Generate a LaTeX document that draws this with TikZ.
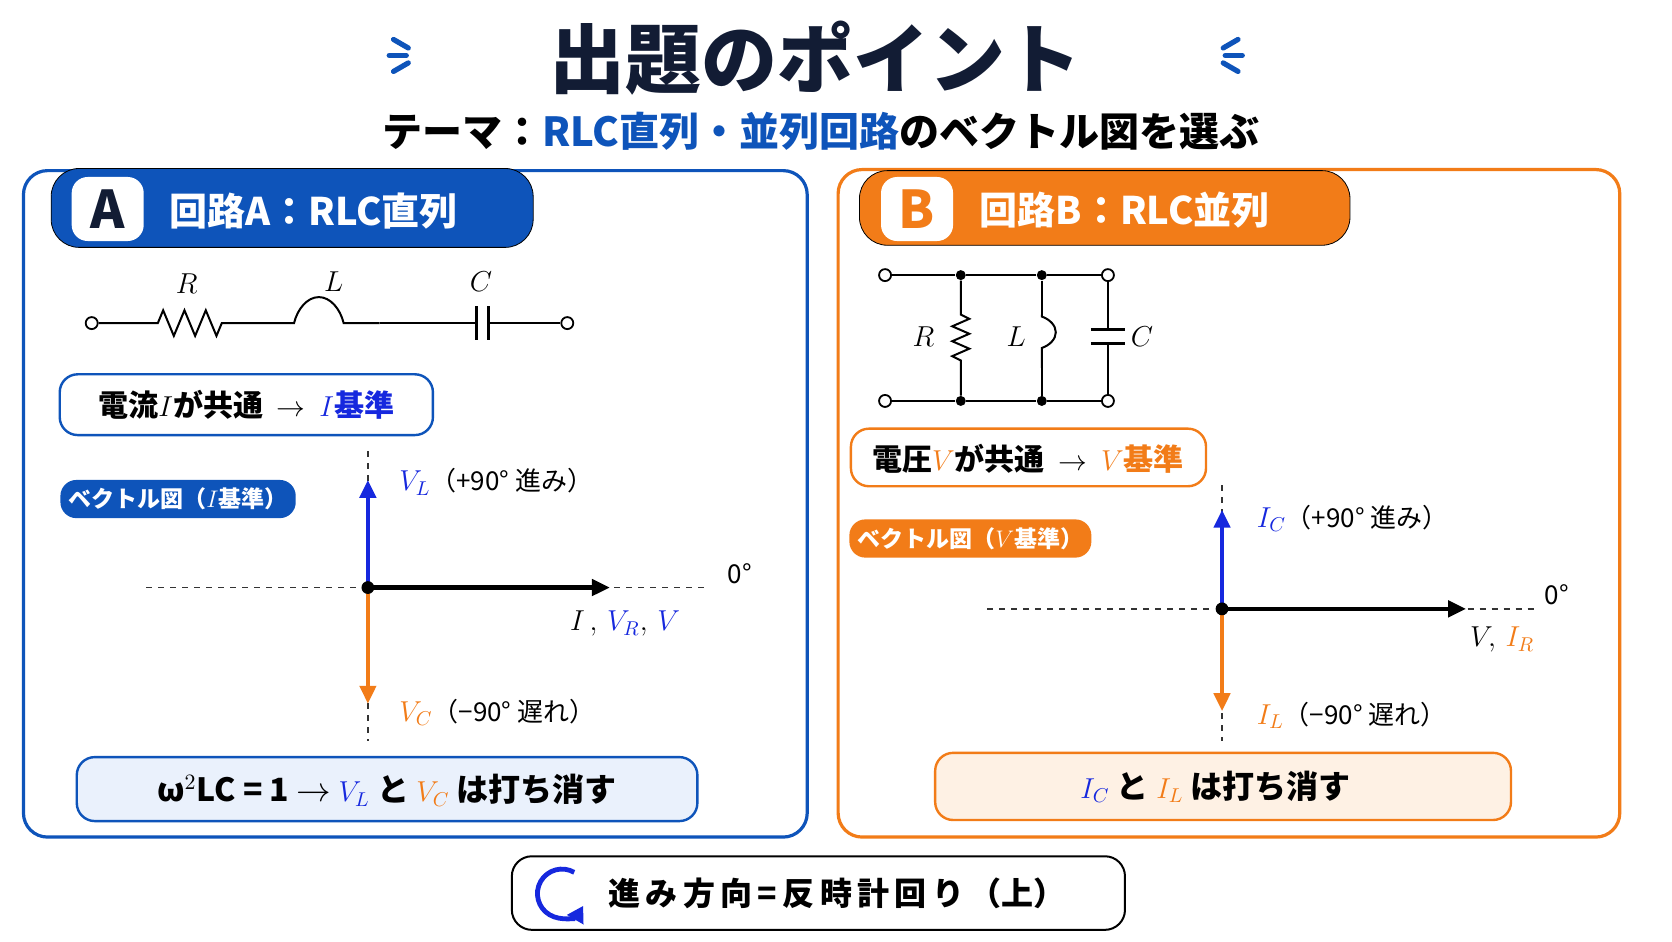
\documentclass[tikz,border=0pt]{standalone}
\usepackage{fontspec}
\setmainfont{Noto Sans CJK JP}
\usetikzlibrary{positioning,decorations.pathmorphing,arrows.meta}
\definecolor{navy}{RGB}{18,28,52}
\definecolor{boxblue}{RGB}{14,84,186}
\definecolor{arrblue}{RGB}{22,40,222}
\definecolor{boxorange}{RGB}{242,124,24}
\definecolor{paleblue}{RGB}{234,241,252}
\definecolor{paleorange}{RGB}{254,241,228}
\begin{document}
\begin{tikzpicture}[
x=0.533pt,y=-0.533pt,
panel/.style={draw=#1,line width=1.6pt,rounded corners=12pt},
tab/.style={fill=#1,rounded corners=14pt},
badge/.style={fill=white,rounded corners=8pt,minimum width=36pt,minimum height=32pt,
  font=\fontsize{26}{26}\selectfont\bfseries},
tabtext/.style={text=white,anchor=west,font=\fontsize{19}{22}\selectfont\bfseries},
keybox/.style={draw=#1,line width=1.2pt,rounded corners=9pt,fill=white},
tag/.style={fill=#1,text=white,rounded corners=8pt,inner sep=4pt,
  font=\fontsize{11.5}{13}\selectfont\bfseries},
lbl/.style={anchor=west,font=\fontsize{13}{15}\selectfont},
guide/.style={dashed,line width=0.7pt,black!80},
vec/.style={line width=2.2pt,-{Triangle[length=9pt,width=8pt]}},
wire/.style={line width=1pt},
term/.style={circle,draw,fill=white,inner sep=0pt,minimum size=6pt,line width=0.9pt},
junc/.style={circle,fill,inner sep=0pt,minimum size=5pt}
]
\useasboundingbox[fill=white] (0,0) rectangle (1568,882.5);

% title
\node[font=\fontsize{38}{40}\selectfont\bfseries,text=navy] (title) at (765,55) {出題のポイント};
\foreach \s in {1,-1}{
  \foreach \ang in {30,0,-30}{
    \draw[boxblue,line width=2.6pt,line cap=round] (765+\s*370,52) ++({90-\s*90+\s*\ang}:14) -- ++({90-\s*90+\s*\ang}:16);
  }
}
\node[font=\fontsize{20}{22}\selectfont\bfseries] (theme) at (770,123)
  {テーマ：\textcolor{boxblue}{RLC直列・並列回路}のベクトル図を選ぶ};

% panel A
\draw[panel=boxblue] (22,160) rectangle (757,785);
\draw[tab=boxblue] (48,158) rectangle (500,232);
\node[badge,text=navy] (bA) at (101,196) {A};
\node[tabtext] (hA) at (152,198) {回路A：RLC直列};

% series circuit
\node[term] (t1) at (86,303) {};
\node[term] (t2) at (532,303) {};
\coordinate (r1) at (148,303); \coordinate (r2) at (208,303);
\coordinate (l1) at (272,303); \coordinate (l2) at (356,303);
\coordinate (c1) at (447,303); \coordinate (c2) at (458,303);
\draw[wire] (t1) -- (r1) -- ++(5,-12) -- ++(10,24) -- ++(10,-24) -- ++(10,24) -- ++(10,-24) -- ++(10,24) -- (r2) -- (l1);
\draw[wire,decorate,decoration={coil,aspect=0.55,segment length=21,amplitude=13,pre length=2,post length=2}] (l1) -- (l2);
\draw[wire] (l2) -- (c1) (c2) -- (t2);
\draw[line width=1.4pt] (447,287) -- (447,319) (458,287) -- (458,319);
\node[font=\fontsize{14}{14}\selectfont] (nR) at (175,266) {$R$};
\node[font=\fontsize{14}{14}\selectfont] (nL) at (313,264) {$L$};
\node[font=\fontsize{14}{14}\selectfont] (nC) at (451,264) {$C$};

\draw[keybox=boxblue] (56,351) rectangle (406,408);
\node[font=\fontsize{15}{17}\selectfont\bfseries] (kA) at (231,380)
  {電流{\Large$I$}が共通 \ $\rightarrow$ \ \textcolor{arrblue}{{\Large$I$}基準}};
\node[tag=boxblue] (gA) at (167,468) {ベクトル図（$I$基準）};

% phasors A
\coordinate (oA) at (345,551);
\coordinate (vlA) at (345,450); \coordinate (vcA) at (345,660); \coordinate (iA) at (572,551);
\draw[guide] (137,551) -- (660,551);
\draw[guide] (345,423) -- (345,695);
\draw[vec,arrblue] (oA) -- (vlA);
\draw[vec,boxorange] (oA) -- (vcA);
\draw[vec,black] (oA) -- (iA);
\fill (oA) circle (6);
\node[lbl] (lVL) at (368,452) {\textcolor{arrblue}{\Large$V_L$}（+90° 進み）};
\node[lbl] (lVC) at (368,668) {\textcolor{boxorange}{\Large$V_C$}（−90° 遅れ）};
\node[lbl] (zA) at (676,538) {0°};
\node[lbl] (lIA) at (528,585) {\Large$I\,,\,\textcolor{arrblue}{V_R},\,\textcolor{arrblue}{V}$};

\draw[keybox=boxblue,fill=paleblue] (72,710) rectangle (654,770);
\node[font=\fontsize{16}{18}\selectfont\bfseries] (eA) at (363,741)
  {ω$^2$LC = 1 $\rightarrow$ \textcolor{arrblue}{\Large$V_L$} と \textcolor{boxorange}{\Large$V_C$} は打ち消す};

% panel B
\draw[panel=boxorange] (786,159) rectangle (1519,785);
\draw[tab=boxorange] (806,160) rectangle (1266,230);
\node[badge,text=boxorange] (bB) at (860,196) {B};
\node[tabtext] (hB) at (912,197) {回路B：RLC並列};

% parallel circuit
\node[term] (u1) at (830,258) {};
\node[term] (u2) at (1039,258) {};
\node[term] (w1) at (830,376) {};
\node[term] (w2) at (1039,376) {};
\node[junc] (jR) at (901,258) {}; \node[junc] (jL) at (977,258) {};
\node[junc] (kR) at (901,376) {}; \node[junc] (kL) at (977,376) {};
\draw[wire] (u1) -- (jR) -- (jL) -- (u2) (w1) -- (kR) -- (kL) -- (w2);
\draw[wire] (jR) -- (901,295) -- ++(8,4) -- ++(-16,7) -- ++(16,7) -- ++(-16,7) -- ++(16,7) -- ++(-16,7) -- ++(8,4) -- (kR);
\draw[wire] (jL) -- (977,295);
\draw[wire,decorate,decoration={coil,aspect=0.55,segment length=16,amplitude=7,pre length=1,post length=1}] (977,295) -- (977,345);
\draw[wire] (977,345) -- (kL);
\draw[wire] (u2) -- (1039,309) (1039,322) -- (w2);
\draw[line width=1.4pt] (1023,309) -- (1055,309) (1023,322) -- (1055,322);
\node[font=\fontsize{14}{14}\selectfont] (mR) at (866,316) {$R$};
\node[font=\fontsize{14}{14}\selectfont] (mL) at (953,316) {$L$};
\node[font=\fontsize{14}{14}\selectfont] (mC) at (1071,316) {$C$};

\draw[keybox=boxorange] (798,402) rectangle (1131,456);
\node[font=\fontsize{15}{17}\selectfont\bfseries] (kB) at (964,430)
  {電圧\textcolor{boxorange}{\Large$V$}が共通 \ $\rightarrow$ \ \textcolor{boxorange}{{\Large$V$}基準}};
\node[tag=boxorange] (gB) at (910,505) {ベクトル図（$V$基準）};

% phasors B
\coordinate (oB) at (1146,571);
\coordinate (icB) at (1146,478); \coordinate (ilB) at (1146,667); \coordinate (vB) at (1375,571);
\draw[guide] (926,571) -- (1440,571);
\draw[guide] (1146,455) -- (1146,695);
\draw[vec,arrblue] (oB) -- (icB);
\draw[vec,boxorange] (oB) -- (ilB);
\draw[vec,black] (oB) -- (vB);
\fill (oB) circle (6);
\node[lbl] (lIC) at (1172,486) {\textcolor{arrblue}{\Large$I_C$}（+90° 進み）};
\node[lbl] (lIL) at (1172,671) {\textcolor{boxorange}{\Large$I_L$}（−90° 遅れ）};
\node[lbl] (zB) at (1442,558) {0°};
\node[lbl] (lVB) at (1372,600) {\Large$V,\,\textcolor{boxorange}{I_R}$};

\draw[keybox=boxorange,fill=paleorange] (877,706) rectangle (1417,769);
\node[font=\fontsize{16}{18}\selectfont\bfseries] (eB) at (1140,738)
  {\textcolor{arrblue}{\Large$I_C$} と \textcolor{boxorange}{\Large$I_L$} は打ち消す};

% footer
\draw[draw=black,line width=1pt,rounded corners=10pt] (480,803) rectangle (1055,872);
\coordinate (ic) at (527,838);
\draw[arrblue,line width=2.4pt,-{Triangle[length=8pt,width=9pt]}] (ic) ++(-60:23) arc[start angle=-60,end angle=-330,radius=23];
\node[font=\fontsize{16}{18}\selectfont\bfseries] (ft) at (785,838)
  {進\,み\,方\,向\,=\,反\,時\,計\,回\,り\,（上）};
\end{tikzpicture}
\end{document}
